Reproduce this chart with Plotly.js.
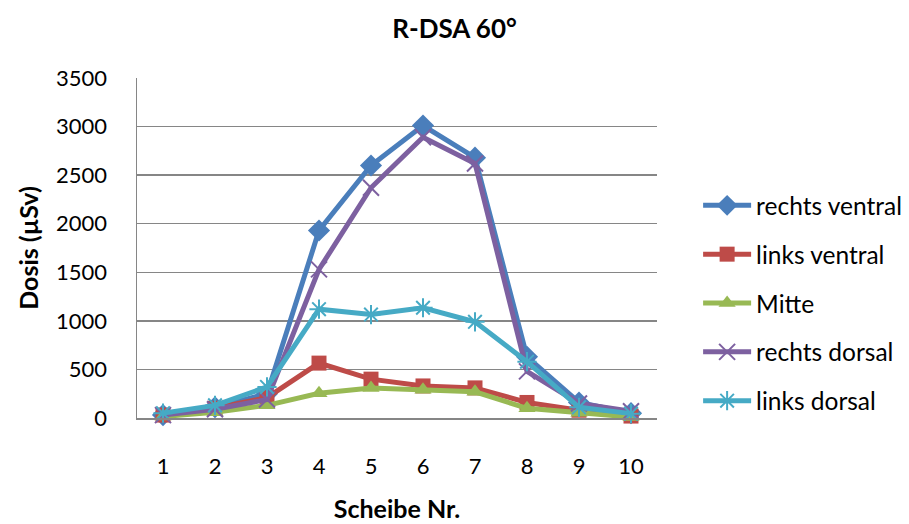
<!DOCTYPE html>
<html>
<head>
<meta charset="utf-8">
<script src="https://cdn.plot.ly/plotly-3.0.1.min.js"></script>
<style>
  html, body { margin: 0; padding: 0; background: #fff; }
  #chart { width: 909px; height: 524px; }
</style>
</head>
<body>
<div id="chart"></div>
<script>
// Dose per slice (µSv), R-DSA 60°
const slices = ['1', '2', '3', '4', '5', '6', '7', '8', '9', '10'];
const rechtsVentral = [30, 110, 250, 1930, 2600, 3010, 2680, 630, 160, 50];
const linksVentral  = [30, 100, 210, 565, 400, 330, 310, 160, 80, 20];
const mitte         = [15, 60, 130, 255, 310, 290, 270, 100, 55, 10];
const rechtsDorsal  = [30, 90, 190, 1530, 2370, 2890, 2620, 480, 150, 70];
const linksDorsal   = [50, 130, 320, 1120, 1065, 1135, 990, 580, 110, 45];

const yTicks = [0, 500, 1000, 1500, 2000, 2500, 3000, 3500];

const FONT = 'Lato, "Open Sans", sans-serif';

function series(name, values, color, symbol, lineOnly, group) {
  const marker = lineOnly
    ? { symbol: symbol, size: 16, color: color, line: { color: color, width: 2 } }
    : { symbol: symbol, size: symbol === 'diamond' ? 17 : 15, color: color, line: { width: 0 } };
  return {
    type: 'scatter',
    mode: 'lines+markers',
    name: name,
    legendgroup: group,
    x: slices,
    y: values,
    line: { color: color, width: 5 },
    marker: marker,
    cliponaxis: false
  };
}

const data = [
  series('rechts ventral', rechtsVentral, '#4a7ebb', 'diamond', false, 'a'),
  series('links ventral', linksVentral, '#be4b48', 'square', false, 'b'),
  series('Mitte', mitte, '#98b954', 'triangle-up', false, 'c'),
  series('rechts dorsal', rechtsDorsal, '#7d60a0', 'x-thin-open', true, 'd'),
  series('links dorsal', linksDorsal, '#46aac5', 'asterisk-open', true, 'e')
];

const layout = {
  width: 909,
  height: 524,
  margin: { l: 137, r: 252, t: 78, b: 106 },
  paper_bgcolor: '#ffffff',
  plot_bgcolor: '#ffffff',
  font: { family: FONT, size: 22, color: '#000000' },
  title: {
    text: '<b>R-DSA 60°</b>',
    font: { family: FONT, size: 26, color: '#000000' },
    x: 0.5,
    xanchor: 'center',
    y: 0.945,
    yanchor: 'middle'
  },
  xaxis: {
    type: 'category',
    tickvals: slices,
    ticktext: slices,
    range: [-0.5, 9.5],
    showgrid: false,
    showline: true,
    linecolor: '#868686',
    linewidth: 1.5,
    ticks: '',
    zeroline: false,
    ticklabelstandoff: 28,
    tickfont: { family: FONT, size: 22 },
    title: {
      text: '<b>Scheibe Nr.</b>',
      font: { family: FONT, size: 25 },
      standoff: 22
    }
  },
  yaxis: {
    range: [0, 3500],
    tickvals: yTicks,
    ticktext: yTicks.map(String),
    showgrid: true,
    gridcolor: '#868686',
    gridwidth: 1.5,
    showline: true,
    linecolor: '#868686',
    linewidth: 1.5,
    ticks: '',
    zeroline: false,
    ticklabelstandoff: 24,
    tickfont: { family: FONT, size: 22 },
    title: {
      text: '<b>Dosis (µSv)</b>',
      font: { family: FONT, size: 25 },
      standoff: 10
    }
  },
  showlegend: true,
  legend: {
    xref: 'container',
    yref: 'container',
    x: 0.768,
    xanchor: 'left',
    y: 0.651,
    yanchor: 'top',
    traceorder: 'grouped',
    tracegroupgap: 14,
    font: { family: FONT, size: 24.5, color: '#000000' },
    bgcolor: 'rgba(0,0,0,0)',
    itemwidth: 48
  }
};

Plotly.newPlot('chart', data, layout, { displayModeBar: false, staticPlot: true });
</script>
</body>
</html>
